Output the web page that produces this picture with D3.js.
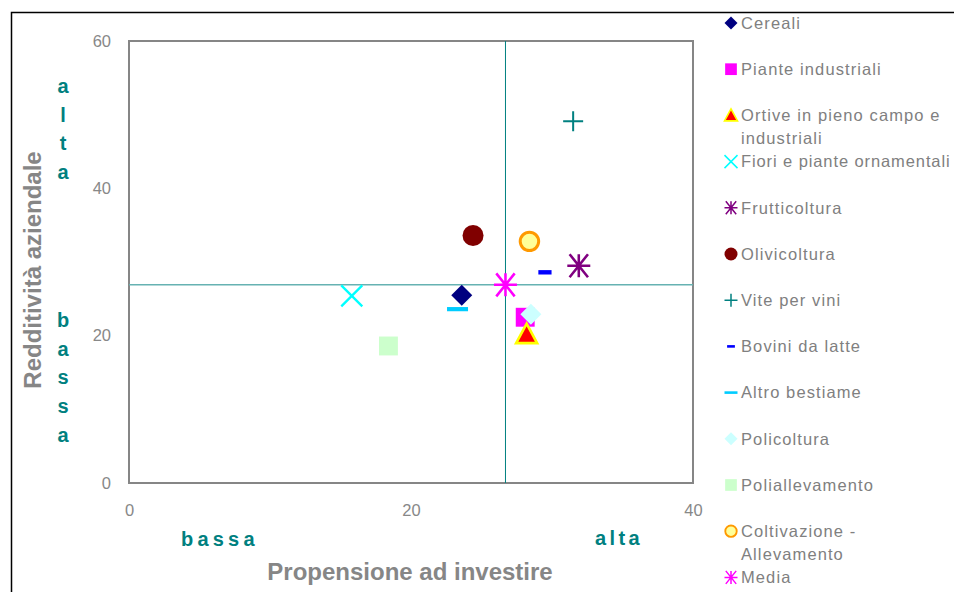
<!DOCTYPE html>
<html><head><meta charset="utf-8">
<script src="https://cdn.jsdelivr.net/npm/d3@7"></script>
<style>
body{margin:0;background:#fff;overflow:hidden}
text{font-family:"Liberation Sans",Arial,sans-serif}
</style></head>
<body><svg id="c" width="954" height="592"></svg>
<script>
const categories = ["Cereali","Piante industriali","Ortive in pieno campo e industriali","Fiori e piante ornamentali","Frutticoltura","Olivicoltura","Vite per vini","Bovini da latte","Altro bestiame","Policoltura","Polialevamento","Coltivazione - Allevamento","Media"];
const legendLines = [["Cereali"],["Piante industriali"],["Ortive in pieno campo e","industriali"],["Fiori e piante ornamentali"],["Frutticoltura"],["Olivicoltura"],["Vite per vini"],["Bovini da latte"],["Altro bestiame"],["Policoltura"],["Poliallevamento"],["Coltivazione -","Allevamento"],["Media"]];
const xValues = [23.6, 28.1, 28.2, 15.8, 31.9, 24.4, 31.5, 29.5, 23.3, 28.5, 18.4, 28.4, 26.7];
const yValues = [25.5, 22.5, 20.2, 25.4, 29.5, 33.6, 49.1, 28.6, 23.6, 22.9, 18.6, 32.8, 26.9];
const xTicks = [0, 20, 40];
const yTicks = [0, 20, 40, 60];
const avgX = 26.7, avgY = 26.9;

const styles = [
  {shape:"diamond", fill:"#000080", stroke:"none"},
  {shape:"square", fill:"#ff00ff", stroke:"none"},
  {shape:"triangle", fill:"#ff0000", stroke:"#ffff00"},
  {shape:"x", fill:"none", stroke:"#00ffff"},
  {shape:"asterisk", fill:"none", stroke:"#800080"},
  {shape:"circle", fill:"#800000", stroke:"none"},
  {shape:"plus", fill:"none", stroke:"#008080"},
  {shape:"dash", fill:"#0000ff", stroke:"none"},
  {shape:"longdash", fill:"#00ccff", stroke:"none"},
  {shape:"diamond", fill:"#ccffff", stroke:"none"},
  {shape:"square", fill:"#ccffcc", stroke:"none"},
  {shape:"ocircle", fill:"#ffff99", stroke:"#ff9900"},
  {shape:"asterisk", fill:"none", stroke:"#ff00ff"}
];

const svg = d3.select("#c");
const x = d3.scaleLinear().domain([0,40]).range([129,693]);
const y = d3.scaleLinear().domain([0,60]).range([483,41]);

// outer frame
svg.append("path").attr("d","M11.5,592 V12.5 H954").attr("fill","none").attr("stroke","#000").attr("stroke-width",1.5);

// plot frame
svg.append("rect").attr("x",x(0)).attr("y",y(60)).attr("width",x(40)-x(0)).attr("height",y(0)-y(60))
  .attr("fill","#fff").attr("stroke","#868686").attr("stroke-width",2);

// axes (labels only)
const gx = svg.append("g").attr("transform",`translate(0,${y(0)+28})`)
  .call(d3.axisBottom(x).tickValues(xTicks).tickSize(0).tickPadding(0));
gx.select(".domain").remove();
gx.selectAll("text").attr("font-size",16.5).attr("fill","#888").attr("dy","0.32em").attr("font-family","Liberation Sans, Arial, sans-serif");
const gy = svg.append("g").attr("transform",`translate(${x(0)-18},0)`)
  .call(d3.axisLeft(y).tickValues(yTicks).tickSize(0).tickPadding(0));
gy.select(".domain").remove();
gy.selectAll("text").attr("font-size",16.5).attr("fill","#888").attr("font-family","Liberation Sans, Arial, sans-serif");

// average lines
svg.append("line").attr("x1",x(0)).attr("x2",x(40)).attr("y1",y(avgY)).attr("y2",y(avgY)).attr("stroke","#66b2b2").attr("stroke-width",1.5);
svg.append("line").attr("x1",x(avgX)).attr("x2",x(avgX)).attr("y1",y(0)).attr("y2",y(60)).attr("stroke","#008080").attr("stroke-width",1);

function drawMarker(g, st, s){
  const h = s/2;
  switch(st.shape){
    case "diamond":
      g.append("path").attr("d",`M0,${-h}L${h},0L0,${h}L${-h},0Z`).attr("fill",st.fill); break;
    case "square":
      g.append("rect").attr("x",-h*0.9).attr("y",-h*0.9).attr("width",s*0.9).attr("height",s*0.9).attr("fill",st.fill); break;
    case "triangle":
      g.append("path").attr("d",`M0,${-h}L${h},${h*0.85}L${-h},${h*0.85}Z`).attr("fill",st.fill).attr("stroke",st.stroke).attr("stroke-width",s/8).attr("stroke-linejoin","miter"); break;
    case "x":
      g.append("path").attr("d",`M${-h},${-h}L${h},${h}M${h},${-h}L${-h},${h}`).attr("stroke",st.stroke).attr("stroke-width",Math.max(1.5,s/9)); break;
    case "asterisk":
      g.append("path").attr("d",`M${-h*0.8},${-h}L${h*0.8},${h}M${h*0.8},${-h}L${-h*0.8},${h}M0,${-h}L0,${h}M${-h},0L${h},0`).attr("stroke",st.stroke).attr("stroke-width",Math.max(1.5,s/9)); break;
    case "plus":
      g.append("path").attr("d",`M0,${-h}L0,${h}M${-h},0L${h},0`).attr("stroke",st.stroke).attr("stroke-width",Math.max(1.5,s/10)); break;
    case "circle":
      g.append("circle").attr("r",h).attr("fill",st.fill); break;
    case "ocircle":
      g.append("circle").attr("r",h*0.88).attr("fill",st.fill).attr("stroke",st.stroke).attr("stroke-width",s/7); break;
    case "dash":
      g.append("rect").attr("x",-h*0.6).attr("y",-s/10).attr("width",s*0.6).attr("height",s/5).attr("fill",st.fill); break;
    case "longdash":
      g.append("rect").attr("x",-h).attr("y",-s/10).attr("width",s).attr("height",s/5).attr("fill",st.fill); break;
  }
}

// points
const order = [6,5,11,4,7,0,8,3,1,9,2,10,12];
order.forEach(i=>{
  const g = svg.append("g").attr("transform",`translate(${x(xValues[i])},${y(yValues[i])})`);
  drawMarker(g, styles[i], i===6?20:(i===7?22:(i===4||i===12?23:21)));
});

// legend
const legY0 = 23, legStep = 46.2;
categories.forEach((c,i)=>{
  const cy = legY0 + i*legStep;
  const g = svg.append("g").attr("transform",`translate(731,${cy})`);
  drawMarker(g, styles[i], 13);
  const t = svg.append("text").attr("x",741).attr("y",cy)
    .attr("font-size",16.5).attr("fill","#808080").attr("letter-spacing","1.1px");
  legendLines[i].forEach((ln,j)=>{
    t.append("tspan").attr("x",741).attr("dy", j===0?"0.35em":"23px").text(ln);
  });
  // keep text within the picture
  let ls = 1.1, fs = 16.5;
  while (t.node().getBBox().x + t.node().getBBox().width > 952 && fs > 12) {
    if (ls > 0.2) ls -= 0.1; else fs -= 0.5;
    t.attr("letter-spacing", ls + "px").attr("font-size", fs);
  }
});

// axis titles
svg.append("text").attr("transform",`translate(41,270) rotate(-90)`).attr("text-anchor","middle")
  .attr("font-size",24).attr("font-weight","bold").attr("fill","#868686").text("Redditività aziendale");
svg.append("text").attr("x",410).attr("y",580).attr("text-anchor","middle")
  .attr("font-size",24).attr("font-weight","bold").attr("fill","#868686").text("Propensione ad investire");

// qualitative labels
const teal = "#008080";
const altaLetters = ["a","l","t","a"], bassaLetters = ["b","a","s","s","a"];
altaLetters.forEach((l,i)=>svg.append("text").attr("x",63).attr("y",86+i*28.5).attr("dy","0.35em").attr("text-anchor","middle")
  .attr("font-size",20).attr("font-weight","bold").attr("fill",teal).text(l));
bassaLetters.forEach((l,i)=>svg.append("text").attr("x",63).attr("y",320+i*28.7).attr("dy","0.35em").attr("text-anchor","middle")
  .attr("font-size",20).attr("font-weight","bold").attr("fill",teal).text(l));
svg.append("text").attr("x",181).attr("y",539).attr("dy","0.35em")
  .attr("font-size",20).attr("font-weight","bold").attr("fill",teal).attr("letter-spacing","4.2px").text("bassa");
svg.append("text").attr("x",595).attr("y",538).attr("dy","0.35em")
  .attr("font-size",20).attr("font-weight","bold").attr("fill",teal).attr("letter-spacing","3.4px").text("alta");
</script></body></html>
